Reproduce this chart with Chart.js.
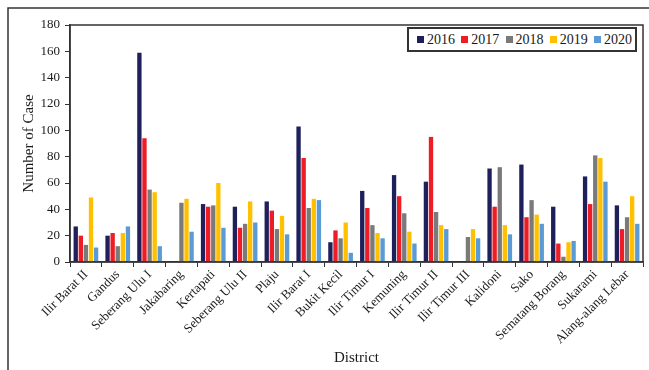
<!DOCTYPE html>
<html lang="en">
<head>
<meta charset="UTF-8">
<title>Number of Case by District</title>
<script src="https://cdn.jsdelivr.net/npm/chart.js"></script>
<style>
  body { margin: 0; background: #fff; }
  #wrap { position: relative; width: 649px; height: 370px; }
  #legend {
    position: absolute; left: 407px; top: 27px; width: 215px; height: 21px;
    border: 2px solid #333; background: #fff;
    font-family: "Liberation Serif", serif; font-size: 14px; color: #1a1a1a;
    display: flex; align-items: center; justify-content: space-between; padding: 0 3px 0 8px;
    box-sizing: content-box;
  }
  #legend span.box { display: inline-block; width: 7px; height: 7px; margin-right: 3px; vertical-align: 1px; }
</style>
</head>
<body>
<div id="wrap">
  <canvas id="mychart" width="649" height="370"></canvas>
  <div id="legend"></div>
</div>
<script>
const districts = ['Ilir Barat II', 'Gandus', 'Seberang Ulu I', 'Jakabaring', 'Kertapati', 'Seberang Ulu II',
  'Plaju', 'Ilir Barat I', 'Bukit Kecil', 'Ilir Timur I', 'Kemuning', 'Ilir Timur II', 'Ilir Timur III',
  'Kalidoni', 'Sako', 'Sematang Borang', 'Sukarami', 'Alang-alang Lebar'];

const years = ['2016', '2017', '2018', '2019', '2020'];

const cases2016 = [27, 20, 159, 0, 44, 42, 46, 103, 15, 54, 66, 61, 0, 71, 74, 42, 65, 43];
const cases2017 = [20, 22, 94, 0, 42, 26, 39, 79, 24, 41, 50, 95, 0, 42, 34, 14, 44, 25];
const cases2018 = [13, 12, 55, 45, 43, 29, 25, 41, 18, 28, 37, 38, 19, 72, 47, 4, 81, 34];
const cases2019 = [49, 22, 53, 48, 60, 46, 35, 48, 30, 22, 23, 28, 25, 28, 36, 15, 79, 50];
const cases2020 = [11, 27, 12, 23, 26, 30, 21, 47, 7, 18, 14, 25, 18, 21, 29, 16, 61, 29];

const yTicks = [0, 20, 40, 60, 80, 100, 120, 140, 160, 180];

const colors = ['#1f1f5c', '#ee1c24', '#7a7a7a', '#ffc000', '#5b9bd5'];
const series = [cases2016, cases2017, cases2018, cases2019, cases2020];

const ink = '#1a1a1a';
const serif = '"Liberation Serif", "Times New Roman", serif';

// frame around the whole figure and the plot box
const framePlugin = {
  id: 'frame',
  afterDraw(chart) {
    const ctx = chart.ctx;
    const a = chart.chartArea;
    ctx.save();
    ctx.strokeStyle = '#333';
    ctx.lineWidth = 1.5;
    ctx.strokeRect(8, 8, 700, 400);
    ctx.strokeRect(a.left, a.top, a.right - a.left, a.bottom - a.top);
    ctx.restore();
  }
};

const chart = new Chart(document.getElementById('mychart'), {
  type: 'bar',
  data: {
    labels: districts,
    datasets: years.map((y, i) => ({
      label: y,
      data: series[i],
      backgroundColor: colors[i],
      categoryPercentage: 0.8,
      barPercentage: 0.85
    }))
  },
  options: {
    responsive: false,
    animation: false,
    layout: { padding: { top: 25, right: 6, left: 0, bottom: 0 } },
    plugins: {
      legend: { display: false },
      tooltip: { enabled: false }
    },
    scales: {
      x: {
        grid: { display: true, drawOnChartArea: false, tickLength: 5, color: '#333', lineWidth: 1 },
        border: { display: true, color: '#333', width: 1.5 },
        ticks: {
          color: ink, font: { family: serif, size: 13 },
          minRotation: 45, maxRotation: 45, padding: 0, autoSkip: false
        },
        title: {
          display: true, text: 'District', color: ink,
          font: { family: serif, size: 15 }, padding: { top: 0, bottom: 3 }
        },
        afterFit(scale) { scale.height = 108; }
      },
      y: {
        min: 0, max: 180,
        afterBuildTicks(scale) { scale.ticks = yTicks.map(v => ({ value: v })); },
        grid: { display: true, drawOnChartArea: false, tickLength: 5, color: '#333', lineWidth: 1 },
        border: { display: true, color: '#333', width: 1.5 },
        ticks: { color: ink, font: { family: serif, size: 13 }, padding: 5 },
        title: {
          display: true, text: 'Number of Case', color: ink,
          font: { family: serif, size: 15 }, padding: { top: 20, bottom: 4 }
        },
        afterFit(scale) { scale.width = 70; }
      }
    }
  },
  plugins: [framePlugin]
});

// legend box in the top right of the plot
const legend = document.getElementById('legend');
chart.data.datasets.forEach(ds => {
  const item = document.createElement('div');
  item.innerHTML = '<span class="box" style="background:' + ds.backgroundColor + '"></span>' + ds.label;
  legend.appendChild(item);
});
</script>
</body>
</html>
